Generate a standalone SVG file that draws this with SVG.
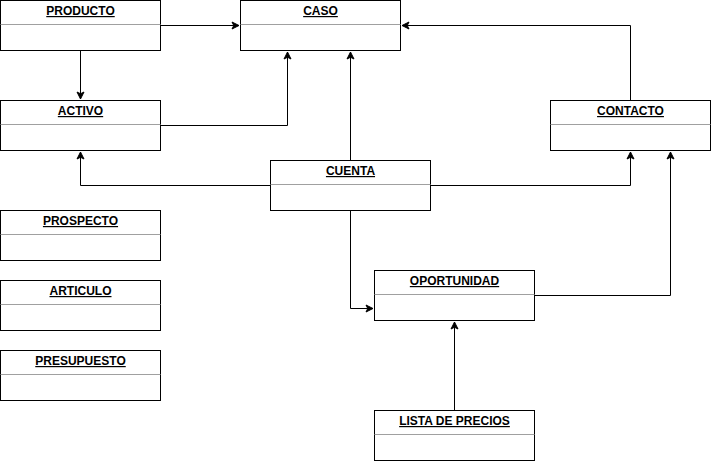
<svg xmlns="http://www.w3.org/2000/svg" width="711" height="461" viewBox="0 0 711 461">
<style>
.box{fill:#fff;stroke:#000;stroke-width:1}
.sep{stroke:#a0a0a0;stroke-width:1}
.t{font-family:"Liberation Sans",Arial,sans-serif;font-size:12px;font-weight:bold;text-decoration:underline;text-anchor:middle;fill:#000}
.c{fill:none;stroke:#000;stroke-width:1}
</style>
<defs>
<marker id="a" markerWidth="10" markerHeight="10" refX="8" refY="5" orient="auto" markerUnits="userSpaceOnUse">
<path d="M1,1.5 L8,5 L1,8.5 L2.75,5 Z" fill="#000" stroke="#000" stroke-width="1"/>
</marker>
</defs>
<rect width="711" height="461" fill="#fff"/>
<g id="connectors">
<path class="c" d="M160.5,25.5 H239" marker-end="url(#a)"/>
<path class="c" d="M80.5,50.5 V99" marker-end="url(#a)"/>
<path class="c" d="M160.5,125.5 H287.5 V52" marker-end="url(#a)"/>
<path class="c" d="M350.5,160.5 V52" marker-end="url(#a)"/>
<path class="c" d="M630.5,100.5 V25.5 H402" marker-end="url(#a)"/>
<path class="c" d="M270.5,185.5 H80.5 V152" marker-end="url(#a)"/>
<path class="c" d="M430.5,185.5 H630.5 V152" marker-end="url(#a)"/>
<path class="c" d="M350.5,210.5 V308.5 H373" marker-end="url(#a)"/>
<path class="c" d="M534.5,295.5 H670.5 V152" marker-end="url(#a)"/>
<path class="c" d="M454.5,410.5 V322" marker-end="url(#a)"/>
</g>
<g id="producto"><rect class="box" x="0.5" y="0.5" width="160" height="50"/><line class="sep" x1="0.5" y1="24.5" x2="160.5" y2="24.5"/><text class="t" x="80.5" y="15">PRODUCTO</text></g>
<g id="caso"><rect class="box" x="240.5" y="0.5" width="160" height="50"/><line class="sep" x1="240.5" y1="24.5" x2="400.5" y2="24.5"/><text class="t" x="320.5" y="15">CASO</text></g>
<g id="activo"><rect class="box" x="0.5" y="100.5" width="160" height="50"/><line class="sep" x1="0.5" y1="124.5" x2="160.5" y2="124.5"/><text class="t" x="80.5" y="115">ACTIVO</text></g>
<g id="contacto"><rect class="box" x="550.5" y="100.5" width="160" height="50"/><line class="sep" x1="550.5" y1="124.5" x2="710.5" y2="124.5"/><text class="t" x="630.5" y="115">CONTACTO</text></g>
<g id="cuenta"><rect class="box" x="270.5" y="160.5" width="160" height="50"/><line class="sep" x1="270.5" y1="184.5" x2="430.5" y2="184.5"/><text class="t" x="350.5" y="175">CUENTA</text></g>
<g id="prospecto"><rect class="box" x="0.5" y="210.5" width="160" height="50"/><line class="sep" x1="0.5" y1="234.5" x2="160.5" y2="234.5"/><text class="t" x="80.5" y="225">PROSPECTO</text></g>
<g id="articulo"><rect class="box" x="0.5" y="280.5" width="160" height="50"/><line class="sep" x1="0.5" y1="304.5" x2="160.5" y2="304.5"/><text class="t" x="80.5" y="295">ARTICULO</text></g>
<g id="presupuesto"><rect class="box" x="0.5" y="350.5" width="160" height="50"/><line class="sep" x1="0.5" y1="374.5" x2="160.5" y2="374.5"/><text class="t" x="80.5" y="365">PRESUPUESTO</text></g>
<g id="oportunidad"><rect class="box" x="374.5" y="270.5" width="160" height="50"/><line class="sep" x1="374.5" y1="294.5" x2="534.5" y2="294.5"/><text class="t" x="454.5" y="285">OPORTUNIDAD</text></g>
<g id="lista"><rect class="box" x="374.5" y="410.5" width="160" height="50"/><line class="sep" x1="374.5" y1="434.5" x2="534.5" y2="434.5"/><text class="t" x="454.5" y="425">LISTA DE PRECIOS</text></g>
</svg>
